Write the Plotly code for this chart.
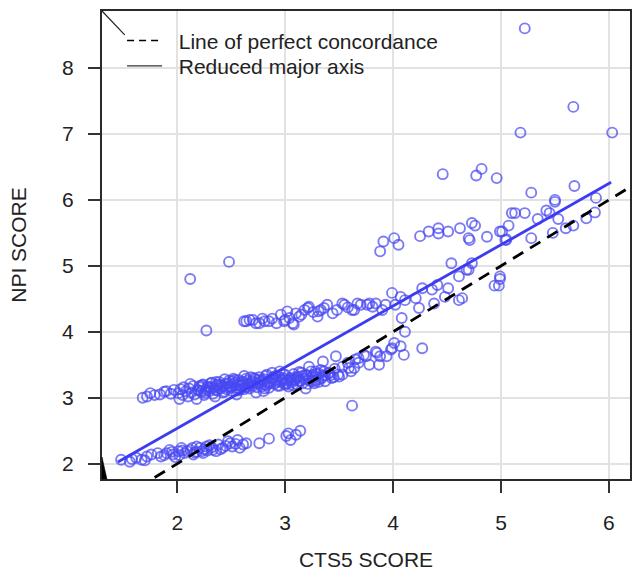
import plotly.graph_objects as go

# ---- observations (CTS5 score vs NPI score) ----
# lower band
low_x = [1.48, 1.56, 1.58, 1.62, 1.67, 1.70, 1.72, 1.76, 1.82, 1.85, 1.88, 1.90, 1.93, 1.96, 1.98,
         2.01, 2.02, 2.04, 2.07, 2.09, 2.12, 2.15, 2.18, 2.18, 2.21, 2.24, 2.25, 2.27, 2.28, 2.30,
         2.33, 2.36, 2.38, 2.42, 2.45, 2.47, 2.51, 2.54, 2.56, 2.58, 2.61, 2.64, 2.76, 2.85, 3.01,
         3.03, 3.05, 3.10, 3.14, 3.62, 2.05, 2.14, 2.23, 2.32, 2.40, 2.49, 2.16, 1.95]
low_y = [2.06, 2.03, 2.07, 2.09, 2.06, 2.05, 2.11, 2.14, 2.16, 2.11, 2.13, 2.16, 2.21, 2.14, 2.10,
         2.19, 2.13, 2.24, 2.16, 2.19, 2.21, 2.14, 2.18, 2.26, 2.24, 2.16, 2.22, 2.26, 2.20, 2.28,
         2.21, 2.19, 2.29, 2.24, 2.27, 2.34, 2.26, 2.30, 2.36, 2.24, 2.29, 2.31, 2.31, 2.38, 2.42,
         2.46, 2.36, 2.44, 2.50, 2.88, 2.20, 2.24, 2.19, 2.25, 2.22, 2.31, 2.17, 2.18]

# dense middle band
mid_x = [1.68, 1.72, 1.75, 1.79, 1.84, 1.88, 1.90, 1.94, 1.97, 2.01, 2.02, 2.03, 2.05, 2.06, 2.08,
         2.10, 2.11, 2.12, 2.13, 2.15, 2.16, 2.18, 2.19, 2.21, 2.22, 2.24, 2.25, 2.27, 2.28, 2.30,
         2.31, 2.33, 2.34, 2.35, 2.36, 2.37, 2.39, 2.40, 2.42, 2.43, 2.44, 2.45, 2.46, 2.48, 2.49,
         2.51, 2.52, 2.54, 2.55, 2.55, 2.57, 2.58, 2.60, 2.61, 2.62, 2.63, 2.64, 2.66, 2.67, 2.69,
         2.70, 2.72, 2.73, 2.75, 2.76, 2.78, 2.79, 2.80, 2.81, 2.82, 2.84, 2.85, 2.87, 2.88, 2.90,
         2.91, 2.93, 2.94, 2.95, 2.96, 2.97, 2.99, 3.00, 3.02, 3.03, 3.05, 3.06, 3.08, 3.09, 3.11,
         3.12, 3.14, 3.15, 3.17, 3.19, 3.20, 3.22, 3.24, 3.25, 3.27, 3.29, 3.31, 3.33, 3.35, 3.37,
         3.40, 3.43, 3.46, 3.49,
         2.20, 2.23, 2.26, 2.29, 2.32, 2.35, 2.38, 2.41, 2.44, 2.47, 2.50, 2.53, 2.56, 2.59, 2.62,
         2.65, 2.68, 2.71, 2.74, 2.77, 2.80, 2.83, 2.86, 2.89, 2.92, 2.95, 2.98, 3.01, 3.04, 3.07,
         3.10, 3.13, 3.16, 3.19, 3.22, 3.25, 3.28, 3.31, 3.34, 3.37,
         2.21, 2.26, 2.31, 2.36, 2.41, 2.46, 2.51, 2.56, 2.61, 2.66, 2.71, 2.76, 2.81, 2.86, 2.91,
         2.96, 3.01, 3.06, 3.11, 3.16, 3.21, 3.26, 3.31, 3.36, 3.42, 3.45, 2.52, 2.68, 2.83, 2.98,
         3.13, 3.28]
mid_y = [3.00, 3.02, 3.07, 3.04, 3.05, 3.09, 3.10, 3.06, 3.12, 3.07, 2.98, 3.13, 3.04, 3.16, 3.10,
         3.02, 3.14, 3.21, 3.08, 3.18, 3.05, 2.98, 3.12, 3.16, 3.09, 3.20, 3.04, 3.13, 3.17, 3.10,
         3.22, 3.06, 3.15, 3.02, 3.19, 3.11, 3.24, 3.14, 3.08, 3.18, 3.28, 3.21, 3.13, 3.26, 3.17,
         3.10, 3.20, 3.23, 3.15, 3.05, 3.27, 3.12, 3.19, 3.24, 3.33, 3.16, 3.29, 3.21, 3.14, 3.25,
         3.18, 3.28, 3.08, 3.22, 3.31, 3.17, 3.26, 3.10, 3.20, 3.33, 3.23, 3.15, 3.29, 3.38, 3.21,
         3.27, 3.18, 3.32, 3.40, 3.24, 3.28, 3.21, 3.35, 3.26, 3.17, 3.30, 3.23, 3.36, 3.27, 3.20,
         3.32, 3.25, 3.38, 3.29, 3.14, 3.34, 3.26, 3.40, 3.31, 3.22, 3.36, 3.28, 3.42, 3.33, 3.25,
         3.38, 3.30, 3.44, 3.35,
         3.11, 3.19, 3.07, 3.15, 3.23, 3.12, 3.20, 3.17, 3.09, 3.22, 3.16, 3.27, 3.19, 3.24, 3.13,
         3.26, 3.21, 3.30, 3.16, 3.24, 3.28, 3.19, 3.25, 3.31, 3.24, 3.18, 3.30, 3.22, 3.28, 3.19,
         3.31, 3.26, 3.22, 3.35, 3.29, 3.25, 3.32, 3.37, 3.30, 3.34,
         3.18, 3.10, 3.16, 3.24, 3.20, 3.16, 3.25, 3.11, 3.21, 3.17, 3.23, 3.27, 3.14, 3.22, 3.33,
         3.27, 3.20, 3.26, 3.29, 3.33, 3.21, 3.35, 3.24, 3.40, 3.34, 3.31, 3.29, 3.31, 3.35, 3.36,
         3.39, 3.26]

# branch rising from the middle band
branch_x = [3.22, 3.28, 3.35, 3.41, 3.47, 3.50, 3.53, 3.53, 3.58, 3.59, 3.61, 3.64, 3.65, 3.68, 3.68,
            3.73, 3.75, 3.78, 3.84, 3.85, 3.87, 3.88, 3.94, 3.98, 3.99, 4.01, 4.07, 4.10, 4.11, 4.27]
branch_y = [3.47, 3.40, 3.55, 3.37, 3.63, 3.32, 3.47, 3.35, 3.53, 3.45, 3.40, 3.45, 3.58, 3.53, 3.60,
            3.65, 3.63, 3.50, 3.70, 3.68, 3.50, 3.63, 3.63, 3.73, 3.75, 3.83, 3.78, 3.65, 4.00, 3.75]

# upper band
up_x = [2.27, 2.62, 2.64, 2.67, 2.70, 2.73, 2.76, 2.81, 2.85, 2.92, 2.96, 2.99, 3.02, 3.04, 3.07,
        3.08, 3.13, 3.15, 3.18, 3.21, 3.22, 3.30, 3.31, 3.33, 3.39, 3.44, 3.48, 3.53, 3.55, 3.62,
        3.64, 3.70, 3.76, 3.78, 3.84, 3.90, 3.93, 3.99, 4.02, 4.07, 4.08, 4.11, 4.21, 4.24, 4.27,
        4.36, 4.38, 4.41, 4.48, 4.51, 4.54, 4.61, 4.61, 4.64, 4.68, 4.73, 4.70, 4.94, 4.98, 4.99,
        4.99, 2.88, 3.10, 3.26, 3.36, 3.58, 3.67, 3.81, 3.00, 2.79]
up_y = [4.02, 4.16, 4.16, 4.18, 4.18, 4.13, 4.13, 4.16, 4.16, 4.13, 4.26, 4.16, 4.31, 4.21, 4.13,
        4.11, 4.23, 4.26, 4.33, 4.36, 4.38, 4.23, 4.31, 4.33, 4.41, 4.28, 4.33, 4.43, 4.41, 4.33,
        4.33, 4.41, 4.41, 4.43, 4.43, 4.33, 4.41, 4.59, 4.41, 4.53, 4.21, 4.48, 4.51, 4.36, 4.66,
        4.64, 4.43, 4.71, 4.53, 4.66, 5.04, 4.48, 4.84, 4.51, 4.94, 5.04, 4.94, 4.70, 4.70, 4.80,
        4.84, 4.20, 4.28, 4.30, 4.36, 4.37, 4.43, 4.38, 4.18, 4.20]

# upper-right cluster and high values
top_x = [2.12, 2.48, 3.88, 3.91, 4.01, 4.05, 4.25, 4.33, 4.42, 4.42, 4.51, 4.62, 4.70, 4.71, 4.73,
         4.76, 4.87, 4.99, 5.01, 5.04, 5.05, 5.07, 5.10, 5.13, 5.22, 5.28, 5.34, 5.42, 5.45, 5.48,
         5.50, 5.53, 5.60, 5.67, 5.79, 5.87, 4.46, 4.77, 4.82, 4.96, 5.28, 5.50, 5.68, 5.88, 5.18,
         6.03, 5.67, 5.22]
top_y = [4.80, 5.06, 5.22, 5.37, 5.42, 5.32, 5.45, 5.52, 5.57, 5.49, 5.52, 5.57, 5.42, 5.39, 5.65,
         5.61, 5.44, 5.52, 5.52, 5.39, 5.40, 5.61, 5.80, 5.80, 5.80, 5.42, 5.71, 5.84, 5.80, 5.50,
         5.97, 5.71, 5.57, 5.61, 5.72, 5.81, 6.39, 6.37, 6.47, 6.33, 6.11, 6.00, 6.21, 6.03, 7.02,
         7.02, 7.41, 8.60]

cts5 = low_x + mid_x + branch_x + up_x + top_x
npi = low_y + mid_y + branch_y + up_y + top_y

# reference lines
concordance_x = [1.0, 6.5]
rma_slope = 0.928
rma_intercept = 0.68
rma_x = [1.45, 6.02]
rma_y = [rma_intercept + rma_slope * v for v in rma_x]

x_ticks = [2, 3, 4, 5, 6]
y_ticks = [2, 3, 4, 5, 6, 7, 8]

FONT = "Liberation Sans, Arial, Helvetica, sans-serif"
FS = 21
INK = "#222222"
BLUE = "#3c3cf2"
PAD = "\u00a0\u00a0"  # small gap between legend sample and label

fig = go.Figure()

fig.add_trace(go.Scatter(
    x=cts5, y=npi, mode="markers", showlegend=False,
    marker=dict(symbol="circle-open", size=10, color="rgba(72,72,242,0.72)",
                line=dict(width=1.9)),
))
fig.add_trace(go.Scatter(
    x=concordance_x, y=concordance_x, mode="lines", showlegend=False,
    line=dict(color="black", width=2.8, dash="12px,8px"),
))
fig.add_trace(go.Scatter(
    x=rma_x, y=rma_y, mode="lines", showlegend=False,
    line=dict(color=BLUE, width=2.8),
))

# legend entries (black samples), one legend box per row
fig.add_trace(go.Scatter(
    x=[None], y=[None], mode="lines", name=PAD + "Line of perfect concordance",
    line=dict(color="black", width=1.3, dash="7px,5px"), legend="legend",
))
fig.add_trace(go.Scatter(
    x=[None], y=[None], mode="lines", name=PAD + "Reduced major axis",
    line=dict(color="#333333", width=1.3), legend="legend2",
))

axis_common = dict(
    showgrid=True, gridcolor="#e2e2e2", gridwidth=1.5,
    showline=True, linecolor="#2a2a2a", linewidth=2, mirror=True,
    ticks="outside", ticklen=12, tickwidth=1.5, tickcolor="#333333",
    zeroline=False,
    tickfont=dict(family=FONT, size=FS, color=INK),
)

fig.update_xaxes(
    range=[1.303, 6.195], tickvals=x_ticks, ticklabelstandoff=12,
    title=dict(text="CTS5 SCORE", font=dict(family=FONT, size=FS, color=INK), standoff=19),
    **axis_common,
)
fig.update_yaxes(
    range=[1.768, 8.864], tickvals=y_ticks, ticklabelstandoff=10,
    title=dict(text="NPI SCORE", font=dict(family=FONT, size=FS, color=INK), standoff=30),
    **axis_common,
)

legend_style = dict(xanchor="left", yanchor="top", bgcolor="rgba(0,0,0,0)", borderwidth=0,
                    font=dict(family=FONT, size=FS, color=INK), itemwidth=35)

fig.update_layout(
    width=636, height=574,
    margin=dict(l=102, r=4, t=11, b=95),
    paper_bgcolor="white", plot_bgcolor="white",
    font=dict(family=FONT, size=FS, color=INK),
    legend=dict(x=0.038, y=0.980, **legend_style),
    legend2=dict(x=0.038, y=0.926, **legend_style),
    shapes=[
        dict(type="line", xref="paper", yref="paper", x0=0, y0=1, x1=0.043, y1=0.949,
             line=dict(color="#222222", width=1.2)),
        dict(type="path", xref="paper", yref="paper",
             path="M 0 0.047 L 0.0094 0 L 0 0 Z",
             fillcolor="black", line=dict(color="black", width=0.5)),
    ],
)

fig.write_html("out.html")
